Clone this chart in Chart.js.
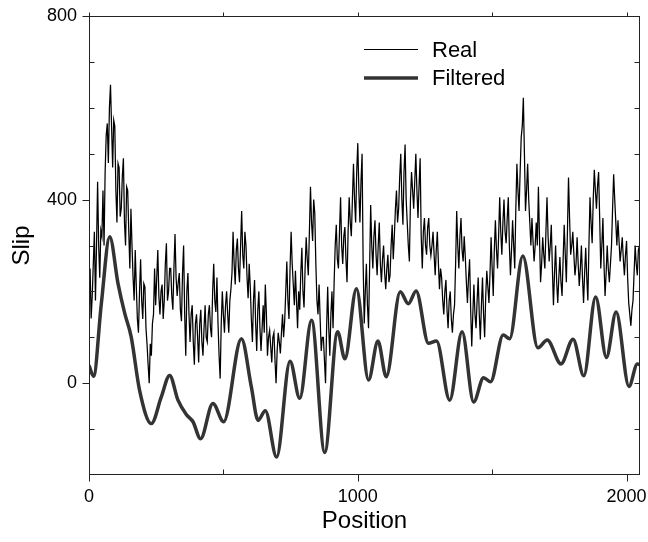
<!DOCTYPE html>
<html>
<head>
<meta charset="utf-8">
<script src="https://cdn.jsdelivr.net/npm/chart.js@4.4.0/dist/chart.umd.min.js"></script>
<style>
  html, body { margin: 0; padding: 0; background: #fff; }
  #wrap { width: 648px; height: 542px; }
</style>
</head>
<body>
<div id="wrap"><canvas id="slipChart" width="648" height="542"></canvas></div>
<script>
// Real slip: one reading every 4 positions (0 .. 2048)
const realStep = 4;
const realSlip = [
  200,250,141,190,260,330,180,300,439,300,230,333,320,420,300,460,540,566,480,600,650,560,470,573,560,420,350,479,470,363,380,450,
  490,350,300,428,420,330,250,380,300,230,180,290,210,140,110,200,270,180,140,217,210,120,85,40,0,86,60,130,150,250,170,230,
  290,190,150,200,215,140,180,260,305,180,200,250,250,190,160,250,325,230,190,220,240,160,135,240,300,150,60,200,240,150,90,150,
  170,90,40,130,150,100,45,130,160,90,60,120,170,100,90,150,170,120,100,200,260,180,155,230,130,60,10,130,200,150,110,170,
  200,150,110,180,205,240,330,260,215,290,315,250,220,300,375,280,250,330,300,230,185,260,210,140,90,180,225,130,70,160,200,120,
  70,120,170,110,215,150,60,100,115,80,45,100,110,50,0,70,110,90,65,110,150,100,135,200,265,180,140,250,330,260,215,170,
  245,180,120,200,160,240,295,200,165,250,318,270,235,330,428,350,310,400,370,260,180,150,215,140,70,100,100,50,0,120,210,120,
  60,150,200,120,220,300,345,270,250,330,405,300,260,320,340,270,220,330,405,350,320,400,478,400,350,460,523,420,350,440,500,260,
  130,200,260,170,120,250,388,300,250,320,355,280,235,300,350,260,220,270,300,240,205,250,280,220,235,300,345,270,320,380,420,350,
  380,450,500,400,345,460,520,400,350,300,265,400,460,420,380,440,500,420,360,430,490,320,250,330,360,300,280,340,360,300,278,300,
  330,280,235,290,330,260,205,250,230,180,150,200,225,160,120,180,200,140,110,150,170,260,375,300,250,320,360,290,265,320,275,220,
  175,230,270,160,80,150,215,150,120,180,230,150,95,170,230,150,100,190,245,210,175,240,318,250,190,290,355,290,250,320,405,330,
  280,350,400,330,305,360,405,300,235,290,355,300,250,380,478,420,375,460,535,560,622,500,375,420,478,400,350,300,360,310,265,300,
  350,300,428,320,220,260,318,280,250,330,405,320,265,300,345,250,170,240,300,220,175,230,275,220,190,270,345,280,220,330,448,360,
  280,300,330,280,235,260,318,260,212,250,300,230,175,240,295,230,180,300,405,350,305,400,465,420,380,430,460,360,250,300,360,260,
  190,240,300,250,220,260,300,380,455,400,350,300,355,310,265,290,318,270,235,280,310,230,175,150,125,160,180,240,300,260,235,290,
  300
];

// Filtered slip: turning points of the smooth curve
const filtPos = [0,17,46,77,108,133,157,188,232,269,300,331,362,387,415,461,501,567,604,629,
  656,698,748,784,828,877,925,952,995,1040,1075,1106,1158,1188,1217,1263,1293,1342,1388,1431,
  1468,1494,1541,1565,1614,1670,1705,1756,1801,1841,1885,1925,1961,2009,2040,2050];
const filtSlip = [39,15,174,319,217,152,101,-15,-88,-30,17,-37,-68,-84,-121,-44,-84,97,-8,-81,
  -60,-161,48,-33,137,-151,112,53,206,7,92,14,199,173,201,87,92,-37,112,-41,
  12,3,105,97,277,77,94,42,96,16,188,56,155,-7,42,40];

const xLabels = [0, 1000, 2000];
const xMinor = [500, 1500];
const yLabels = [0, 400, 800];
const yMinor = [-100, 100, 200, 300, 500, 600, 700];

const fontFam = "'Liberation Sans', Arial, Helvetica, sans-serif";

const realData = realSlip.map((v, i) => ({ x: i * realStep, y: v }));
const filtData = filtPos.map((p, i) => ({ x: p, y: filtSlip[i] }));

// moldura + marcas dos eixos
const frameTicks = {
  id: 'frameTicks',
  afterDatasetsDraw(chart) {
    const { ctx, chartArea: a, scales: { x, y } } = chart;
    const L = Math.round(a.left) + 0.5, R = Math.round(a.right) - 0.5;
    const T = Math.round(a.top) + 0.5, B = Math.round(a.bottom) - 0.5;
    ctx.save();
    ctx.strokeStyle = '#222';
    ctx.lineWidth = 1;
    ctx.strokeRect(L, T, R - L, B - T);
    ctx.beginPath();
    xLabels.forEach(v => {
      const px = Math.round(x.getPixelForValue(v)) + 0.5;
      ctx.moveTo(px, B); ctx.lineTo(px, B + 7);
      ctx.moveTo(px, T); ctx.lineTo(px, T - 4);
    });
    xMinor.forEach(v => {
      const px = Math.round(x.getPixelForValue(v)) + 0.5;
      ctx.moveTo(px, B); ctx.lineTo(px, B - 5);
      ctx.moveTo(px, T); ctx.lineTo(px, T - 4);
    });
    yLabels.forEach(v => {
      const py = Math.round(y.getPixelForValue(v)) + 0.5;
      ctx.moveTo(L, py); ctx.lineTo(L - 7, py);
      ctx.moveTo(R, py); ctx.lineTo(R - 5, py);
    });
    yMinor.forEach(v => {
      const py = Math.round(y.getPixelForValue(v)) + 0.5;
      ctx.moveTo(L, py); ctx.lineTo(L + 5, py);
      ctx.moveTo(R, py); ctx.lineTo(R - 5, py);
    });
    ctx.stroke();
    ctx.restore();
  }
};

// legenda dentro do gráfico
const insideLegend = {
  id: 'insideLegend',
  afterDraw(chart) {
    const ctx = chart.ctx;
    const ds = chart.data.datasets;
    const rows = [49.5, 78];
    ctx.save();
    ds.forEach((d, i) => {
      ctx.beginPath();
      ctx.strokeStyle = d.borderColor;
      ctx.lineWidth = i === 0 ? 1 : d.borderWidth;
      ctx.moveTo(364, rows[i]);
      ctx.lineTo(418, rows[i]);
      ctx.stroke();
      ctx.fillStyle = '#000';
      ctx.font = '22px ' + fontFam;
      ctx.textBaseline = 'middle';
      ctx.fillText(d.label, 432, Math.round(rows[i]) + 1);
    });
    ctx.restore();
  }
};

new Chart(document.getElementById('slipChart'), {
  type: 'line',
  data: {
    datasets: [
      {
        label: 'Real',
        data: realData,
        borderColor: '#000',
        borderWidth: 1.25,
        pointRadius: 0,
        tension: 0
      },
      {
        label: 'Filtered',
        data: filtData,
        borderColor: '#333',
        borderWidth: 3.5,
        pointRadius: 0,
        cubicInterpolationMode: 'monotone'
      }
    ]
  },
  options: {
    responsive: false,
    animation: false,
    layout: { padding: { top: 16, right: 8, left: 0, bottom: 0 } },
    plugins: { legend: { display: false }, tooltip: { enabled: false } },
    scales: {
      x: {
        type: 'linear',
        min: 0,
        max: 2050,
        grid: { display: false, tickLength: 0 },
        border: { display: false },
        afterBuildTicks: s => { s.ticks = xLabels.map(v => ({ value: v })); },
        afterFit: s => { s.height = 67; s.paddingLeft = 0; s.paddingRight = 0; },
        ticks: {
          font: { size: 18, family: fontFam }, color: '#000', padding: 11, maxRotation: 0,
          callback: v => String(v)
        },
        title: { display: true, text: 'Position', font: { size: 24, family: fontFam }, color: '#000', padding: 6 }
      },
      y: {
        min: -200,
        max: 800,
        grid: { display: false, tickLength: 0 },
        border: { display: false },
        afterBuildTicks: s => { s.ticks = yLabels.map(v => ({ value: v })); },
        afterFit: s => { s.width = 89; s.paddingTop = 0; s.paddingBottom = 0; },
        ticks: { font: { size: 18, family: fontFam }, color: '#000', padding: 12, callback: v => String(v) },
        title: { display: true, text: 'Slip', font: { size: 24, family: fontFam }, color: '#000', padding: 8 }
      }
    }
  },
  plugins: [frameTicks, insideLegend]
});
</script>
</body>
</html>
